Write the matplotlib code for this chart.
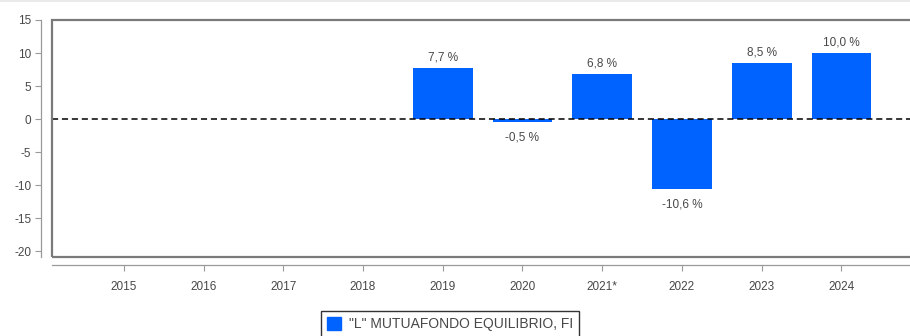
import matplotlib
matplotlib.use("Agg")
import matplotlib.pyplot as plt
from matplotlib.patches import Rectangle, Patch

years = ["2015", "2016", "2017", "2018", "2019", "2020", "2021*", "2022", "2023", "2024"]
returns = [None, None, None, None, 7.7, -0.5, 6.8, -10.6, 8.5, 10.0]
yticks = [15, 10, 5, 0, -5, -10, -15, -20]
series_name = '"L" MUTUAFONDO EQUILIBRIO, FI'

plt.rcParams["font.family"] = ["Liberation Sans", "DejaVu Sans"]
plt.rcParams["axes.unicode_minus"] = False
W, H = 910, 336
fig = plt.figure(figsize=(W / 100, H / 100), dpi=100)
ax = fig.add_axes([52 / W, 1 - 257 / H, 1 - 52 / W, (257 - 20) / H])

bar_color = "#0062ff"
spine_gray = "#9a9a9a"
text_gray = "#484848"
fs = 8.5

xs = [i for i, v in enumerate(returns) if v is not None]
vals = [v for v in returns if v is not None]
ax.bar(xs, vals, width=0.75, color=bar_color, zorder=2)

for x, v in zip(xs, vals):
    label = f"{v:.1f} %".replace(".", ",")
    if v >= 0:
        ax.annotate(label, (x, v), xytext=(0, 3.5), textcoords="offset points",
                    ha="center", va="bottom", fontsize=fs, color=text_gray)
    else:
        ax.annotate(label, (x, v), xytext=(0, -6.5), textcoords="offset points",
                    ha="center", va="top", fontsize=fs, color=text_gray)

ax.axhline(0, color="black", lw=1.1, ls=(0, (4, 2.5)), zorder=3)

ax.set_xlim(-0.9, 9.86)
ax.set_ylim(-20.9, 15)
ax.set_yticks(yticks)
ax.set_xticks(range(len(years)))
ax.set_xticklabels(years)

# plot frame, open on the right where it runs off the figure
ax.add_patch(Rectangle((0, 0), 1.05, 1, transform=ax.transAxes, fill=False,
                       ec="#7a7a7a", lw=1.6, zorder=4, clip_on=False))
for s in ["top", "right"]:
    ax.spines[s].set_visible(False)
ax.spines["left"].set_position(("outward", 8))
ax.spines["bottom"].set_position(("outward", 6))
for s in ["left", "bottom"]:
    ax.spines[s].set_color(spine_gray)
    ax.spines[s].set_linewidth(0.9)
ax.tick_params(axis="both", colors=spine_gray, labelcolor=text_gray,
               labelsize=fs, length=4, width=0.8, direction="out")
ax.tick_params(axis="x", pad=7)
ax.tick_params(axis="y", pad=3)

fig.legend(handles=[Patch(facecolor=bar_color, edgecolor=bar_color)],
           labels=[series_name], loc="upper center",
           bbox_to_anchor=(450 / W, 1 - 304 / H), frameon=True,
           fancybox=False, edgecolor="black", fontsize=10,
           handlelength=1.0, handleheight=1.0, handletextpad=0.6,
           borderpad=0.45, labelcolor=text_gray)

fig.add_artist(plt.Line2D([0, 1], [1 - 1 / H, 1 - 1 / H], color="#e6e6e6",
                          lw=1.2, transform=fig.transFigure))

fig.savefig("out.png", dpi=100)
